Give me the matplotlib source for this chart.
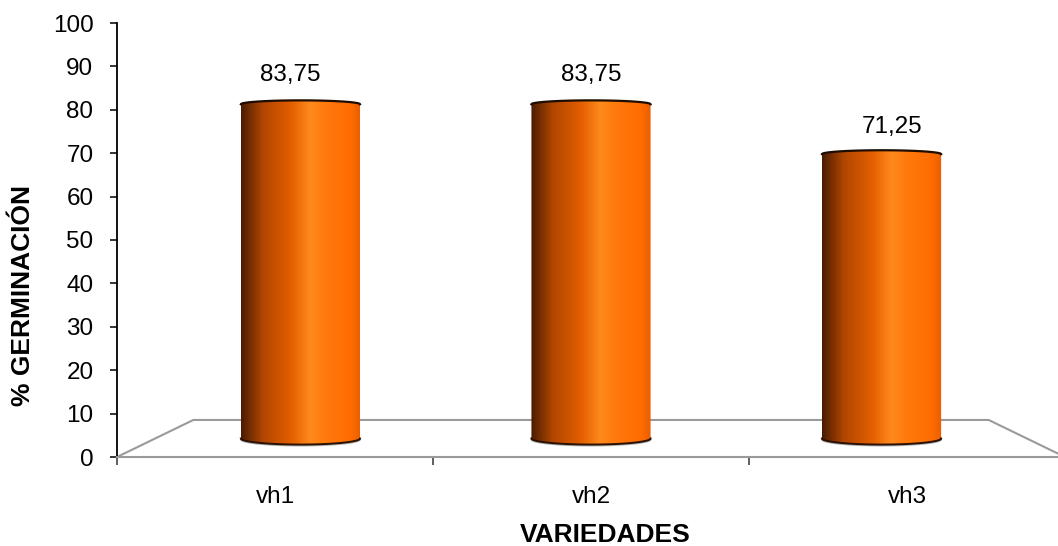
import numpy as np
import matplotlib.pyplot as plt
from matplotlib.colors import LinearSegmentedColormap
from matplotlib.patches import Polygon

# Germination per variety
varieties = ["vh1", "vh2", "vh3"]
germination = [83.75, 83.75, 71.25]
y_ticks = [0, 10, 20, 30, 40, 50, 60, 70, 80, 90, 100]

plt.rcParams["font.family"] = ["Liberation Sans", "DejaVu Sans"]

# 3-D look: points further back shrink toward a vanishing point
vanish_x, vanish_y = 1.0, 53.0
shrink = 0.161


def project(x, y, depth):
    s = 1 - shrink * depth
    return vanish_x + (np.asarray(x) - vanish_x) * s, vanish_y + (np.asarray(y) - vanish_y) * s


cyl_cmap = LinearSegmentedColormap.from_list("cyl", [
    (0.00, "#4a1c02"),
    (0.18, "#b04600"),
    (0.42, "#e45f00"),
    (0.58, "#ff8a1c"),
    (0.70, "#ff7a0e"),
    (0.92, "#ff6c00"),
    (1.00, "#e85e00"),
])

fig = plt.figure(figsize=(10.58, 5.46), dpi=100)
ax = fig.add_axes([117 / 1058, 89 / 546, 948 / 1058, 434 / 546])

# floor outline
fx = [-0.5, -0.5, 2.5, 2.5]
fy = [0, 0, 0, 0]
bx, by = project(fx, fy, 1.0)
ax.plot([fx[0], bx[0], bx[3], fx[3]], [0, by[0], by[3], 0],
        color="#9a9a9a", lw=1.5, clip_on=False, zorder=1)

# cylinders
radius = 0.205
top_h, bot_h = 0.9, 1.4
theta = np.linspace(0, np.pi, 60)
for i, val in enumerate(germination):
    (xl, xr), (y0, y1) = project([i - radius, i + radius], [0, val], 0.5)
    xc, hw = (xl + xr) / 2, (xr - xl) / 2
    # lower arc of the base, upper arc of the cap
    base_x = xc - hw * np.cos(theta)
    base_y = y0 - bot_h * np.sin(theta)
    cap_x = xc + hw * np.cos(theta)
    cap_y = y1 + top_h * np.sin(theta)
    verts = np.column_stack([np.r_[base_x, cap_x], np.r_[base_y, cap_y]])
    outline = Polygon(verts, closed=True, facecolor="none", edgecolor="none",
                      transform=ax.transData)
    ax.add_patch(outline)
    im = ax.imshow(np.linspace(0, 1, 256)[None, :], cmap=cyl_cmap,
                   extent=[xl, xr, y0 - bot_h, y1 + top_h],
                   aspect="auto", zorder=3, interpolation="bilinear")
    im.set_clip_path(outline)
    ax.plot(base_x, base_y - 0.25, color="#b0b0b0", lw=1.2, zorder=2)
    ax.plot(base_x, base_y, color="#2a1000", lw=1.4, zorder=4)
    ax.plot(cap_x, cap_y, color="#1e0c00", lw=1.6, zorder=4)

    lx, ly = project(i, val, 0.3)
    ax.annotate(f"{val:.2f}".replace(".", ","), (lx, ly), xytext=(0, 18),
                textcoords="offset points", ha="center", va="center",
                fontsize=17.5, zorder=5)

ax.set_xlim(-0.5, 2.5)
ax.set_ylim(0, 100)

for side in ["top", "right"]:
    ax.spines[side].set_visible(False)
ax.spines["left"].set_color("black")
ax.spines["left"].set_linewidth(1.3)
ax.spines["bottom"].set_color("#9a9a9a")
ax.spines["bottom"].set_linewidth(1.5)

ax.set_yticks(y_ticks)
ax.tick_params(axis="y", length=5, width=1.1, pad=12, labelsize=17.5)
ax.set_xticks(range(len(varieties)))
ax.set_xticklabels(varieties)
ax.set_xticks([-0.5, 0.5, 1.5, 2.5], minor=True)
ax.tick_params(axis="x", which="major", length=0, pad=21, labelsize=17.5)
ax.tick_params(axis="x", which="minor", length=6, width=1.1, color="#333333")

fig.text(605 / 1058, 11 / 546, "VARIEDADES", ha="center", va="center",
         fontsize=19, fontweight="bold")
fig.text(23 / 1058, 251 / 546, "% GERMINACIÓN", ha="center", va="center",
         rotation=90, fontsize=19, fontweight="bold")

fig.savefig("out.png", dpi=100)
